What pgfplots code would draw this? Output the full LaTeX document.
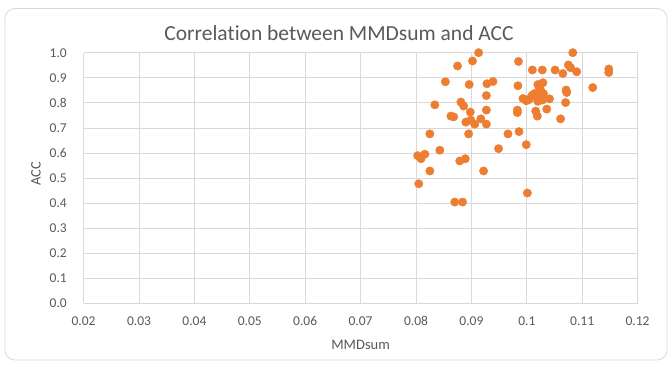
\documentclass[border=0pt]{standalone}
\usepackage{pgfplots}
\pgfplotsset{compat=1.18}
\usepackage{fontspec}
\setmainfont[Ligatures=NoCommon]{Carlito}
\definecolor{txt}{HTML}{595959}
\definecolor{grd}{HTML}{D9D9D9}
\definecolor{dot}{HTML}{ED7D31}
\begin{document}
\begin{tikzpicture}[x=1pt,y=1pt]
\path[use as bounding box] (0,0) rectangle (672,367);
\draw[grd, rounded corners=10pt, line width=0.8pt] (5,7) rectangle (667,358.5);
\node[txt, font=\fontsize{21.5}{24}\selectfont] at (339,334) {Correlation between MMDsum and ACC};
\begin{axis}[
  at={(83.6pt,63.7pt)}, anchor=south west,
  scale only axis, width=554pt, height=250.6pt,
  xmin=0.02, xmax=0.12, ymin=0, ymax=1.0,
  xtick={0.02,0.03,...,0.121}, ytick={0,0.1,...,1.01},
  xticklabels={0.02,0.03,0.04,0.05,0.06,0.07,0.08,0.09,0.1,0.11,0.12},
  yticklabel style={/pgf/number format/fixed, /pgf/number format/fixed zerofill, /pgf/number format/precision=1},
  /pgf/number format/assume math mode=true,
  tick label style={txt, font=\fontsize{13.5}{15}\selectfont, inner sep=0pt},
  xticklabel style={anchor=base, yshift=-21.7pt},
  yticklabel style={anchor=east, xshift=-16.6pt},
  grid=major, major grid style={grd, line width=0.7pt},
  axis line style={draw=none},
  axis x line*=bottom, axis y line*=left,
  x axis line style={grd, line width=0.8pt},
  major tick length=0pt,
  xlabel={MMDsum}, ylabel={ACC},
  label style={txt, font=\fontsize{14.5}{16}\selectfont, inner sep=0pt},
  xlabel style={at={(axis description cs:0.5,-0.166)}, anchor=center},
  ylabel style={at={(axis description cs:-0.086,0.516)}, anchor=center},
  clip=false,
]
\addplot[only marks, mark=*, mark size=4.2pt, mark options={draw=dot, fill=dot}] coordinates {
(0.0913,1.0) (0.1083,1.0) (0.0875,0.947) (0.0902,0.967) (0.0985,0.965)
(0.1010,0.931) (0.1028,0.931) (0.1051,0.931) (0.1065,0.917) (0.1075,0.951)
(0.1079,0.940) (0.1090,0.924) (0.1148,0.935) (0.1148,0.921)
(0.0853,0.884) (0.0896,0.873) (0.0928,0.876) (0.0939,0.885) (0.0984,0.868)
(0.1020,0.873) (0.1029,0.880) (0.1023,0.857) (0.1071,0.851) (0.1072,0.841)
(0.1119,0.861) (0.0927,0.829) (0.0834,0.792) (0.0881,0.803) (0.0886,0.787)
(0.0927,0.771) (0.0898,0.763) (0.0863,0.747) (0.0868,0.744) (0.0890,0.723)
(0.0899,0.731) (0.0906,0.715) (0.0917,0.736) (0.0927,0.715) (0.0895,0.676)
(0.0983,0.771) (0.0983,0.761) (0.0993,0.817) (0.0999,0.808) (0.1008,0.824)
(0.1014,0.837) (0.1022,0.821) (0.1028,0.811) (0.1041,0.816) (0.1016,0.767)
(0.1019,0.747) (0.1036,0.775) (0.1070,0.801) (0.1061,0.736)
(0.1010,0.831) (0.1025,0.850) (0.1030,0.837) (0.1004,0.813) (0.1020,0.806)
(0.0825,0.676) (0.0966,0.676) (0.0986,0.685) (0.0949,0.617) (0.0999,0.633)
(0.0843,0.611) (0.0803,0.589) (0.0809,0.577) (0.0816,0.595) (0.0879,0.568)
(0.0889,0.577) (0.0825,0.528) (0.0922,0.528) (0.0805,0.477) (0.1001,0.440)
(0.0870,0.404) (0.0884,0.404)
};
\end{axis}
\end{tikzpicture}
\end{document}
